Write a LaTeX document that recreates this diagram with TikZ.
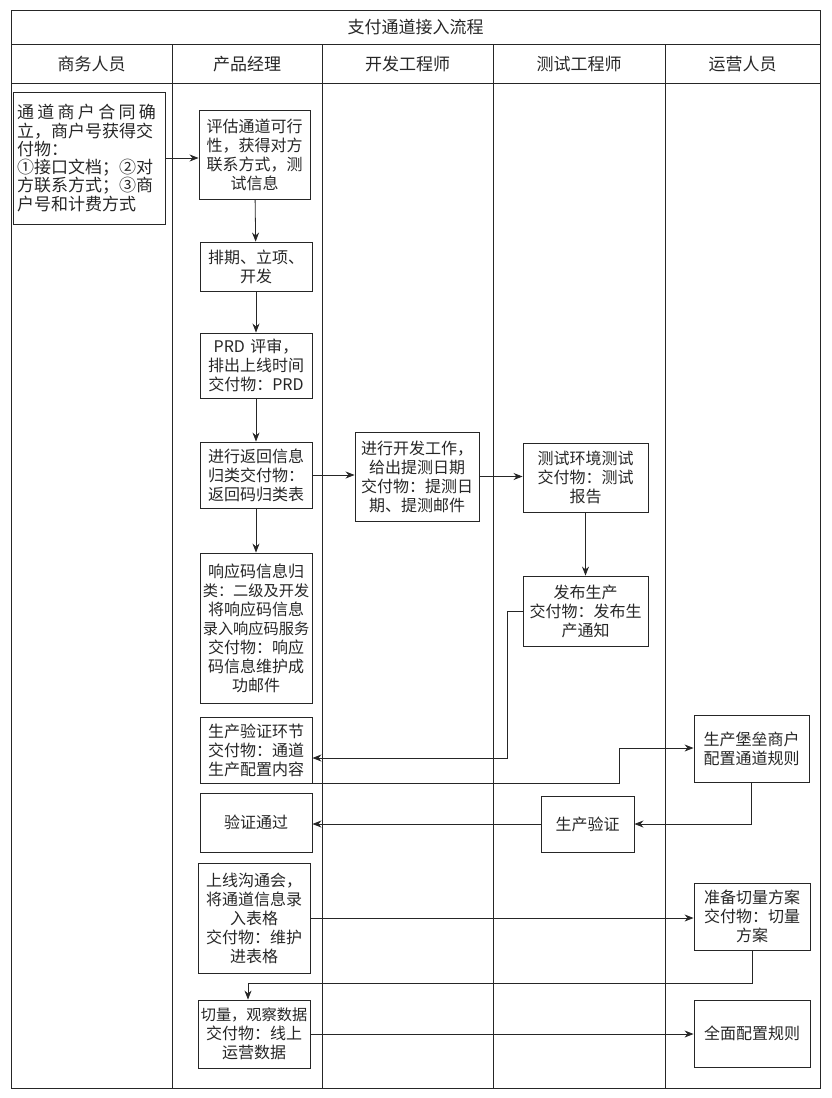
\documentclass[tikz,border=0pt]{standalone}
\usepackage{fontspec}
\setmainfont{Noto Sans CJK SC}
\usetikzlibrary{arrows.meta,calc}
\newcommand{\narrowline}[1]{{\fontsize{15.2}{19}\selectfont #1}}
\begin{document}
\begin{tikzpicture}[x=1pt,y=-1pt,
  frame/.style={draw=black!85, line width=0.8pt},
  box/.style={draw=black!85, line width=0.9pt, inner sep=1pt, align=center,
    text=black!85, font=\fontsize{16}{19}\selectfont},
  bx/.style 2 args={box, minimum width=#1pt, minimum height=#2pt, text width=#1pt-2pt},
  lane/.style={text=black!85, font=\fontsize{17}{19}\selectfont},
  conn/.style={draw=black!85, line width=0.8pt, -{Stealth[length=9pt,width=7pt]}}]
\useasboundingbox (0,0) rectangle (831,1098);
% swimlane frame
\draw[frame] (11,10) rectangle (820,1088);
\draw[frame] (11,44) -- (820,44);
\draw[frame] (11,83) -- (820,83);
\foreach \xx in {172,322,493,665} \draw[frame] (\xx,44) -- (\xx,1088);
\node[lane] (title) at (415.5,27) {支付通道接入流程};
\node[lane] (h1) at (91.5,64) {商务人员};
\node[lane] (h2) at (247,64) {产品经理};
\node[lane] (h3) at (407.5,64) {开发工程师};
\node[lane] (h4) at (579,64) {测试工程师};
\node[lane] (h5) at (742.5,64) {运营人员};
% boxes
\node[bx={152}{132}, align=left, text width=144pt, font=\fontsize{17}{18.3}\selectfont] (biz) at (89,158)
  {\hbox to 139pt{通\hfil 道\hfil 商\hfil 户\hfil 合\hfil 同\hfil 确}\\立，商户号获得交\\付物：\\①接口文档；②对\\方联系方式；③商\\户号和计费方式};
\node[bx={111}{89}] (eval) at (254.5,154.5) {评估通道可行\\性，获得对方\\联系方式，测\\试信息};
\node[bx={112}{49}] (sched) at (256,266.5) {排期、立项、\\开发};
\node[bx={112}{65}] (prd) at (256,365.5) {PRD 评审，\\排出上线时间\\交付物：PRD};
\node[bx={112}{66}] (ret) at (256,475) {进行返回信息\\归类交付物：\\返回码归类表};
\node[bx={112}{150}] (resp) at (256,628) {响应码信息归\\\narrowline{类：二级及开发}\\将响应码信息\\\narrowline{录入响应码服务}\\交付物：响应\\码信息维护成\\功邮件};
\node[bx={112}{66}] (gen) at (256,750) {生产验证环节\\交付物：通道\\生产配置内容};
\node[bx={112}{59}] (pass) at (256,822.5) {验证通过};
\node[bx={112}{110}] (launch) at (254,918) {上线沟通会，\\将通道信息录\\入表格\\交付物：维护\\进表格};
\node[bx={112}{68}] (cut) at (254,1034) {\narrowline{切量，观察数据}\\交付物：线上\\运营数据};
\node[bx={124}{89}] (dev) at (417,476.5) {进行开发工作，\\给出提测日期\\交付物：提测日\\期、提测邮件};
\node[bx={125}{69}] (test) at (585.5,477.5) {测试环境测试\\交付物：测试\\报告};
\node[bx={125}{70}] (rel) at (585.5,611) {发布生产\\交付物：发布生\\产通知};
\node[bx={93}{56}] (verify) at (587.5,824) {生产验证};
\node[bx={115}{67}] (ops1) at (751.5,748.5) {生产堡垒商户\\配置通道规则};
\node[bx={116}{67}] (ops2) at (752,916.5) {准备切量方案\\交付物：切量\\方案};
\node[bx={116}{67}] (ops3) at (752,1033.5) {全面配置规则};
% turning points
\coordinate (c1) at (507,758);
\coordinate (c2) at (619,748);
\coordinate (c3) at (248,983);
% connectors
\draw[conn] (biz.east) -- (biz.east -| eval.west);
\draw[conn] (eval) -- (sched);
\draw[conn] (sched) -- (prd);
\draw[conn] (prd) -- (ret);
\draw[conn] (ret) -- (resp);
\draw[conn] (ret.east) -- (ret.east -| dev.west);
\draw[conn] (dev.east) -- (dev.east -| test.west);
\draw[conn] (test) -- (rel);
\draw[conn] (rel.west) -| (c1) -- (c1 -| gen.east);
\draw[conn] (gen.south east) -| (c2) -- (c2 -| ops1.west);
\draw[conn] (ops1.south) |- (verify.east);
\draw[conn] (verify.west) -- (verify.west -| pass.east);
\draw[conn] (launch.east) -- (launch.east -| ops2.west);
\draw[conn] (ops2.south) |- (c3) -- (c3 |- cut.north);
\draw[conn] (cut.east) -- (cut.east -| ops3.west);
\end{tikzpicture}
\end{document}
